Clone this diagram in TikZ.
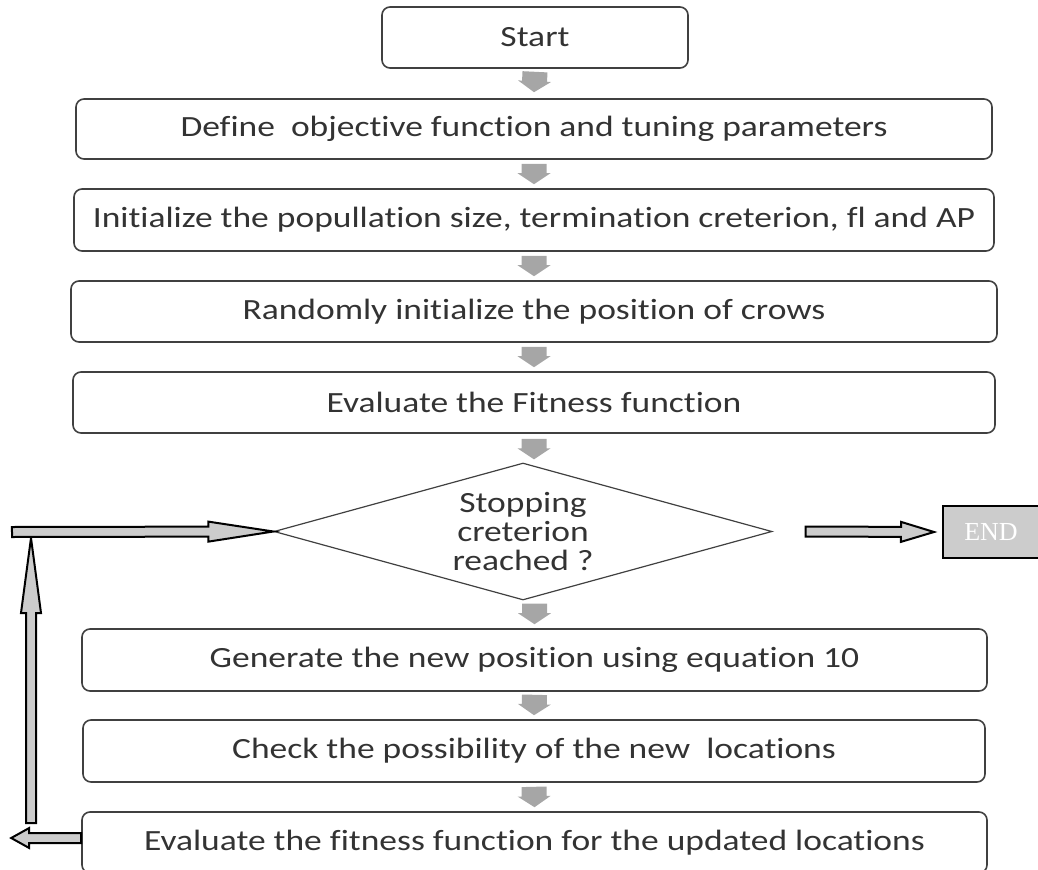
\documentclass[tikz,border=0pt]{standalone}
\usepackage{fontspec}
\setmainfont{Carlito}[FakeStretch=1.21, Ligatures={NoCommon,NoContextual}]
\newfontfamily\endfont{Liberation Serif}
\usetikzlibrary{positioning,arrows.meta,calc,shapes.geometric}

\definecolor{boxline}{HTML}{404040}
\definecolor{stepgray}{HTML}{A6A6A6}
\definecolor{loopgray}{HTML}{CCCCCC}

% block arrow: style, half shaft, half head, head length, start, tip
\newcommand{\blockarrow}[6]{%
  \path (#5) coordinate (ba-s) (#6) coordinate (ba-e);
  \path ($(ba-e)!#4!(ba-s)$) coordinate (ba-b);
  \path[#1] ($(ba-s)!#2!90:(ba-b)$) -- ($(ba-b)!#2!-90:(ba-s)$)
    -- ($(ba-b)!#3!-90:(ba-s)$) -- (ba-e) -- ($(ba-b)!#3!90:(ba-s)$)
    -- ($(ba-b)!#2!90:(ba-s)$) -- ($(ba-s)!#2!-90:(ba-b)$) -- cycle;
}

\begin{document}
\begin{tikzpicture}[
  x=0.75pt, y=-0.75pt,
  font=\fontsize{22}{22}\selectfont,
  box/.style={draw=boxline, line width=1.2pt, rounded corners=6pt, text=black!80, minimum height=45.75pt, inner sep=0pt},
  decision/.style={diamond, draw=boxline, line width=0.9pt, aspect=3.6, inner sep=0pt, align=center, minimum width=373.5pt, minimum height=102.75pt, text=black!80},
  stepdown/.style={fill=stepgray},
  loopback/.style={draw=black, line width=1.5pt, fill=loopgray, line join=miter},
  endbox/.style={draw=black, line width=1.5pt, fill=loopgray, minimum width=72pt, minimum height=39pt, font=\endfont\fontsize{19.5}{20}\selectfont, text=white}
]
  \useasboundingbox (0,0) rectangle (1038,870);

  \node[box, minimum width=229.5pt] (start) at (535,37.5) {Start};
  \node[box, minimum width=687pt, minimum height=45pt] (define) at (534,129) {Define\ \ objective function and tuning parameters};
  \node[box, minimum width=690pt, minimum height=46.5pt] (init) at (534,220) {Initialize the popullation size, termination creterion, fl and AP};
  \node[box, minimum width=694.5pt] (random) at (534,311.5) {Randomly initialize the position of crows};
  \node[box, minimum width=691.5pt] (fitness) at (534,402.5) {Evaluate the Fitness function};
  \node[decision] (stop) at (523,531.5) {Stopping\\creterion\\reached ?};
  \node[box, minimum width=678.75pt, minimum height=46.5pt] (generate) at (534.5,660) {Generate the new position using equation 10};
  \node[box, minimum width=676.5pt, minimum height=46.5pt] (check) at (534,751) {Check the possibility of the new\ \ locations};
  \node[box, minimum width=678.75pt] (evalnew) at (534.5,842.5) {Evaluate the fitness function for the updated locations};
  \node[endbox] (done) at (991,532) {END};

  \coordinate (loopstart) at (12,532);
  \coordinate (looprise) at (31,823);
  \coordinate (looptop) at (31,538);

  % steps
  \blockarrow{stepdown}{9.375pt}{12.375pt}{8.25pt}{$(start.south)+(0,3)$}{$(define.north)+(0,-6)$}
  \blockarrow{stepdown}{9.375pt}{12.375pt}{8.25pt}{$(define.south)+(0,4)$}{$(init.north)+(0,-4)$}
  \blockarrow{stepdown}{9.375pt}{12.375pt}{8.25pt}{$(init.south)+(0,4)$}{$(random.north)+(0,-4)$}
  \blockarrow{stepdown}{9.375pt}{12.375pt}{8.25pt}{$(random.south)+(0,4)$}{$(fitness.north)+(0,-4)$}
  \blockarrow{stepdown}{9.375pt}{12.375pt}{8.25pt}{$(fitness.south)+(0,5)$}{$(fitness.south|-stop.north)+(0,-3)$}
  \blockarrow{stepdown}{9.375pt}{12.375pt}{8.25pt}{$(generate.north|-stop.south)+(0,3)$}{$(generate.north)+(0,-4)$}
  \blockarrow{stepdown}{9.375pt}{12.375pt}{8.25pt}{$(generate.south)+(0,3)$}{$(check.north)+(0,-4)$}
  \blockarrow{stepdown}{9.375pt}{12.375pt}{8.25pt}{$(check.south)+(0,4)$}{$(evalnew.north)+(0,-4)$}

  % loop back and exit
  \blockarrow{loopback}{3.75pt}{7.5pt}{13.5pt}{$(evalnew.west)+(0,-4.5)$}{$(evalnew.west)+(-70,-4.5)$}
  \blockarrow{loopback}{3.75pt}{7.5pt}{56.25pt}{looprise}{looptop}
  \blockarrow{loopback}{3.75pt}{7.5pt}{48.75pt}{loopstart}{stop.west}
  \blockarrow{loopback}{3.75pt}{7.5pt}{24.75pt}{$(stop.east)+(33,0)$}{$(done.west)+(-8,0)$}
\end{tikzpicture}
\end{document}
